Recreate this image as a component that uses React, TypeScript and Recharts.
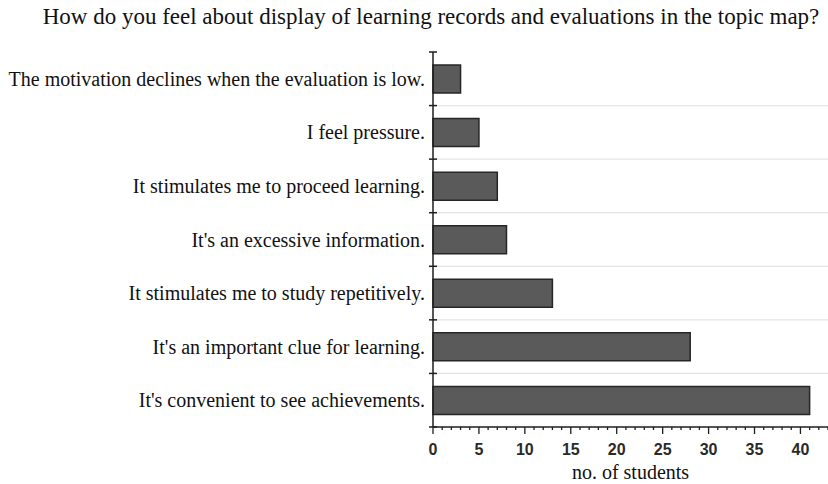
import React from 'react';
import { BarChart, Bar, XAxis, YAxis, CartesianGrid } from 'recharts';

const title = 'How do you feel about display of learning records and evaluations in the topic map?';
const categories = [
  'The motivation declines when the evaluation is low.',
  'I feel pressure.',
  'It stimulates me to proceed learning.',
  "It's an excessive information.",
  'It stimulates me to study repetitively.',
  "It's an important clue for learning.",
  "It's convenient to see achievements.",
];
const students = [3, 5, 7, 8, 13, 28, 41];
const xTicks = [0, 1, 2, 3, 4, 5, 6, 7, 8, 9, 10, 11, 12, 13, 14, 15, 16, 17, 18, 19, 20, 21, 22, 23, 24, 25, 26, 27, 28, 29, 30, 31, 32, 33, 34, 35, 36, 37, 38, 39, 40, 41, 42, 43];
const innerBoundaries = [1, 2, 3, 4, 5, 6];
const xLabel = 'no. of students';

const data = categories.map((name, i) => ({ name, value: students[i] }));

const SERIF = '"Liberation Serif", "Times New Roman", serif';
const SANS = '"Liberation Sans", Arial, sans-serif';
const INK = '#1e1e1e';

const XTick = (props: any) => {
  const { x, y, payload } = props;
  const v = payload.value as number;
  const major = v % 5 === 0;
  return (
    <g>
      <line x1={x} x2={x} y1={y} y2={y + (major ? 7 : 3)} stroke={INK} strokeWidth={1.3} />
      {major && (
        <text x={x} y={y + 28} textAnchor="middle" fontFamily={SANS} fontSize={16} fontWeight="bold" fill="#2a2a2a">
          {v}
        </text>
      )}
    </g>
  );
};

const YTick = (props: any) => {
  const { x, y, payload, index } = props;
  const half = payload.offset || 0;
  const last = index === categories.length - 1;
  return (
    <g>
      <line x1={x - 4} x2={x + 4} y1={y - half} y2={y - half} stroke={INK} strokeWidth={1.5} />
      {last && <line x1={x - 4} x2={x + 4} y1={y + half} y2={y + half} stroke={INK} strokeWidth={1.5} />}
      <text x={x - 8} y={y} dy="0.35em" textAnchor="end" fontFamily={SERIF} fontSize={20} fill="#111">
        {payload.value}
      </text>
    </g>
  );
};

const gridRows = ({ offset }: any) =>
  innerBoundaries.map((b) => offset.top + (offset.height * b) / categories.length);

export default function App() {
  return (
    <div style={{ position: 'absolute', left: 0, top: 0, width: 828, height: 484, background: '#fff' }}>
      <svg width={828} height={40} style={{ position: 'absolute', left: 0, top: 0 }}>
        <text x={431} y={24} textAnchor="middle" fontFamily={SERIF} fontSize={23} fill="#111">
          {title}
        </text>
      </svg>
      <div style={{ position: 'absolute', left: 0, top: 0 }}>
        <BarChart
          width={828}
          height={484}
          data={data}
          layout="vertical"
          margin={{ top: 52, right: 0, bottom: 0, left: 0 }}
        >
          <CartesianGrid
            vertical={false}
            stroke="#e4e4e4"
            strokeWidth={1.2}
            horizontalCoordinatesGenerator={gridRows}
          />
          <XAxis
            type="number"
            domain={[0, 43]}
            ticks={xTicks}
            interval={0}
            tickSize={0}
            tickMargin={0}
            tick={<XTick />}
            axisLine={{ stroke: INK, strokeWidth: 1.5 }}
            height={57}
            label={{
              value: xLabel,
              position: 'insideBottom',
              offset: 5,
              style: { fontFamily: SERIF, fontSize: 20, fill: '#111' },
            }}
          />
          <YAxis
            type="category"
            dataKey="name"
            width={433}
            axisLine={{ stroke: INK, strokeWidth: 1.5 }}
            tickLine={false}
            tickSize={0}
            tickMargin={0}
            interval={0}
            tick={<YTick />}
          />
          <Bar
            dataKey="value"
            fill="#5a5a5a"
            stroke="#262626"
            strokeWidth={1.5}
            barSize={28}
            isAnimationActive={false}
          />
        </BarChart>
      </div>
    </div>
  );
}
